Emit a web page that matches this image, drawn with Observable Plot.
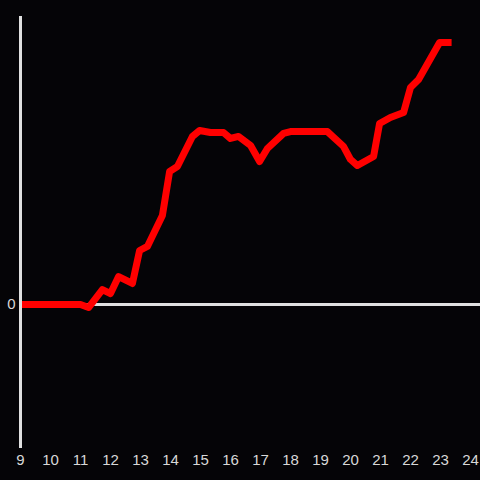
<!DOCTYPE html>
<html><head><meta charset="utf-8">
<script src="https://cdn.jsdelivr.net/npm/d3@7"></script>
<script src="https://cdn.jsdelivr.net/npm/@observablehq/plot@0.6"></script>
<style>html,body{margin:0;padding:0;background:#050407;}</style>
</head><body><div id="chart"></div>
<script>
const hours = [9, 11, 11.27, 11.73, 12.0, 12.27, 12.73, 12.97, 13.23, 13.73, 13.97, 14.23, 14.73, 14.97, 15.33, 15.77, 16.0, 16.27, 16.67, 16.97, 17.23, 17.77, 18.0, 19.23, 19.77, 20.0, 20.23, 20.77, 20.97, 21.33, 21.77, 22.0, 22.27, 22.97, 23.37];
const values = [0, 0, -0.021, 0.104, 0.076, 0.194, 0.146, 0.375, 0.403, 0.618, 0.924, 0.958, 1.167, 1.208, 1.194, 1.194, 1.153, 1.167, 1.104, 0.993, 1.083, 1.188, 1.201, 1.201, 1.097, 1.007, 0.965, 1.028, 1.257, 1.299, 1.333, 1.507, 1.562, 1.819, 1.819];
const xTicks = [9, 10, 11, 12, 13, 14, 15, 16, 17, 18, 19, 20, 21, 22, 23, 24];
const yTicks = [0];
const data = hours.map((h, i) => ({hour: h, value: values[i]}));
const chart = Plot.plot({
  width: 480, height: 480,
  marginLeft: 20, marginRight: 0, marginTop: 16, marginBottom: 32,
  x: {domain: [9, 24], range: [20, 470]},
  y: {domain: [-1, 2]},
  style: {background: "#050407", color: "#d8d8d8", fontFamily: "'Liberation Sans', Arial, sans-serif", fontSize: "15px"},
  marks: [
    Plot.ruleY(yTicks, {stroke: "#e0e0e0", strokeWidth: 3}),
    Plot.line(data, {x: "hour", y: "value", stroke: "#ff0000", strokeWidth: 7, strokeLinejoin: "round", strokeLinecap: "butt"}),
    Plot.ruleX([9], {stroke: "#e0e0e0", strokeWidth: 3}),
    Plot.axisX({ticks: xTicks, tickSize: 0, tickPadding: 6, label: null, tickFormat: d => String(d), fill: "#d8d8d8"}),
    Plot.axisY({ticks: yTicks, tickSize: 0, tickPadding: 5, label: null, tickFormat: d => String(d), fill: "#d8d8d8"})
  ]
});
document.getElementById("chart").appendChild(chart);
</script>
</body></html>
